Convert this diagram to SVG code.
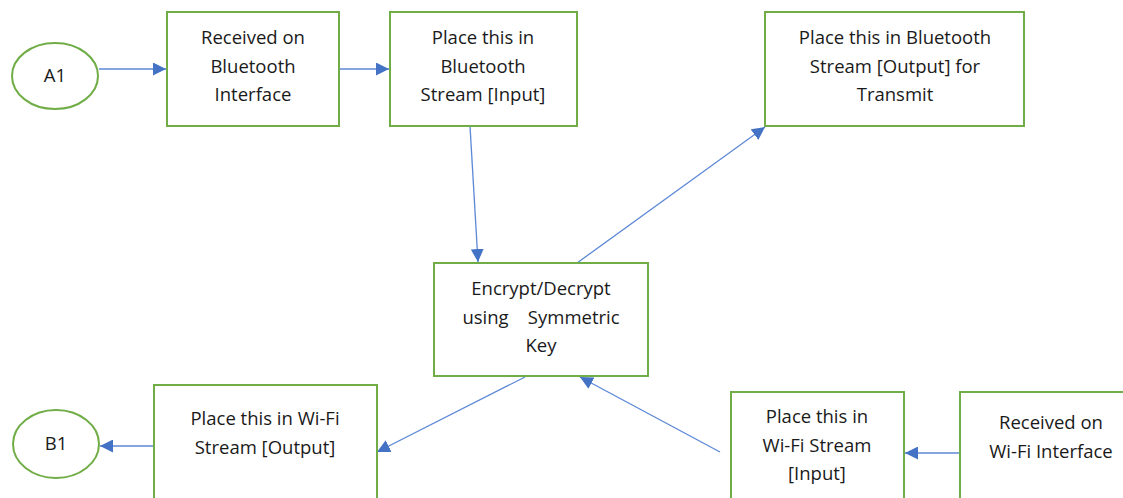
<svg xmlns="http://www.w3.org/2000/svg" width="1123" height="498" viewBox="0 0 1123 498">
<style>
.n{fill:#fff;stroke:#70AD47;stroke-width:2}
.t{font-family:"Open Sans","Liberation Sans",sans-serif;font-size:18.5px;fill:#1a1a1a;text-anchor:middle;white-space:pre}
.c{stroke:#5B87D6;stroke-width:1.3;fill:none;marker-end:url(#ah)}
</style>
<defs>
<marker id="ah" viewBox="0 0 10 10" refX="10" refY="5" markerWidth="13" markerHeight="13" markerUnits="userSpaceOnUse" orient="auto"><path d="M0,0L10,5L0,10z" fill="#4472C4"/></marker>
</defs>
<rect width="1123" height="498" fill="#fff"/>
<g id="connectors">
<line class="c" x1="99" y1="69" x2="166" y2="69"/>
<line class="c" x1="339" y1="69" x2="389" y2="69"/>
<line class="c" x1="470" y1="126" x2="478" y2="262"/>
<line class="c" x1="577" y1="263" x2="765" y2="127"/>
<line class="c" x1="525" y1="377" x2="377" y2="452"/>
<line class="c" x1="720" y1="452" x2="580" y2="377"/>
<line class="c" x1="960" y1="453" x2="905" y2="453"/>
<line class="c" x1="154" y1="446" x2="100" y2="446"/>
</g>
<g id="A1"><ellipse class="n" cx="55" cy="76" rx="43" ry="33"/><text class="t" x="55" y="82">A1</text></g>
<g id="n1"><rect class="n" x="167" y="12" width="172" height="114"/>
<text class="t" x="253" y="44">Received on</text><text class="t" x="253" y="73">Bluetooth</text><text class="t" x="253" y="101">Interface</text></g>
<g id="n2"><rect class="n" x="390" y="12" width="187" height="114"/>
<text class="t" x="483" y="44">Place this in</text><text class="t" x="483" y="73">Bluetooth</text><text class="t" x="483" y="101">Stream [Input]</text></g>
<g id="n3"><rect class="n" x="765" y="12" width="259" height="114"/>
<text class="t" x="895" y="44">Place this in Bluetooth</text><text class="t" x="895" y="73">Stream [Output] for</text><text class="t" x="895" y="101">Transmit</text></g>
<g id="n4"><rect class="n" x="434" y="263" width="214" height="113"/>
<text class="t" x="541" y="295">Encrypt/Decrypt</text><text class="t" x="541" y="324">using    Symmetric</text><text class="t" x="541" y="352">Key</text></g>
<g id="n5"><rect class="n" x="154" y="385" width="223" height="130"/>
<text class="t" x="265" y="425">Place this in Wi-Fi</text><text class="t" x="265" y="454">Stream [Output]</text></g>
<g id="B1"><ellipse class="n" cx="56" cy="444" rx="43" ry="34"/><text class="t" x="56" y="450">B1</text></g>
<g id="n6"><rect class="n" x="731" y="392" width="173" height="120"/>
<text class="t" x="817" y="423">Place this in</text><text class="t" x="817" y="452">Wi-Fi Stream</text><text class="t" x="817" y="480">[Input]</text></g>
<g id="n7"><rect class="n" x="960" y="392" width="180" height="120"/>
<text class="t" x="1051" y="429">Received on</text><text class="t" x="1051" y="458">Wi-Fi Interface</text></g>
</svg>
